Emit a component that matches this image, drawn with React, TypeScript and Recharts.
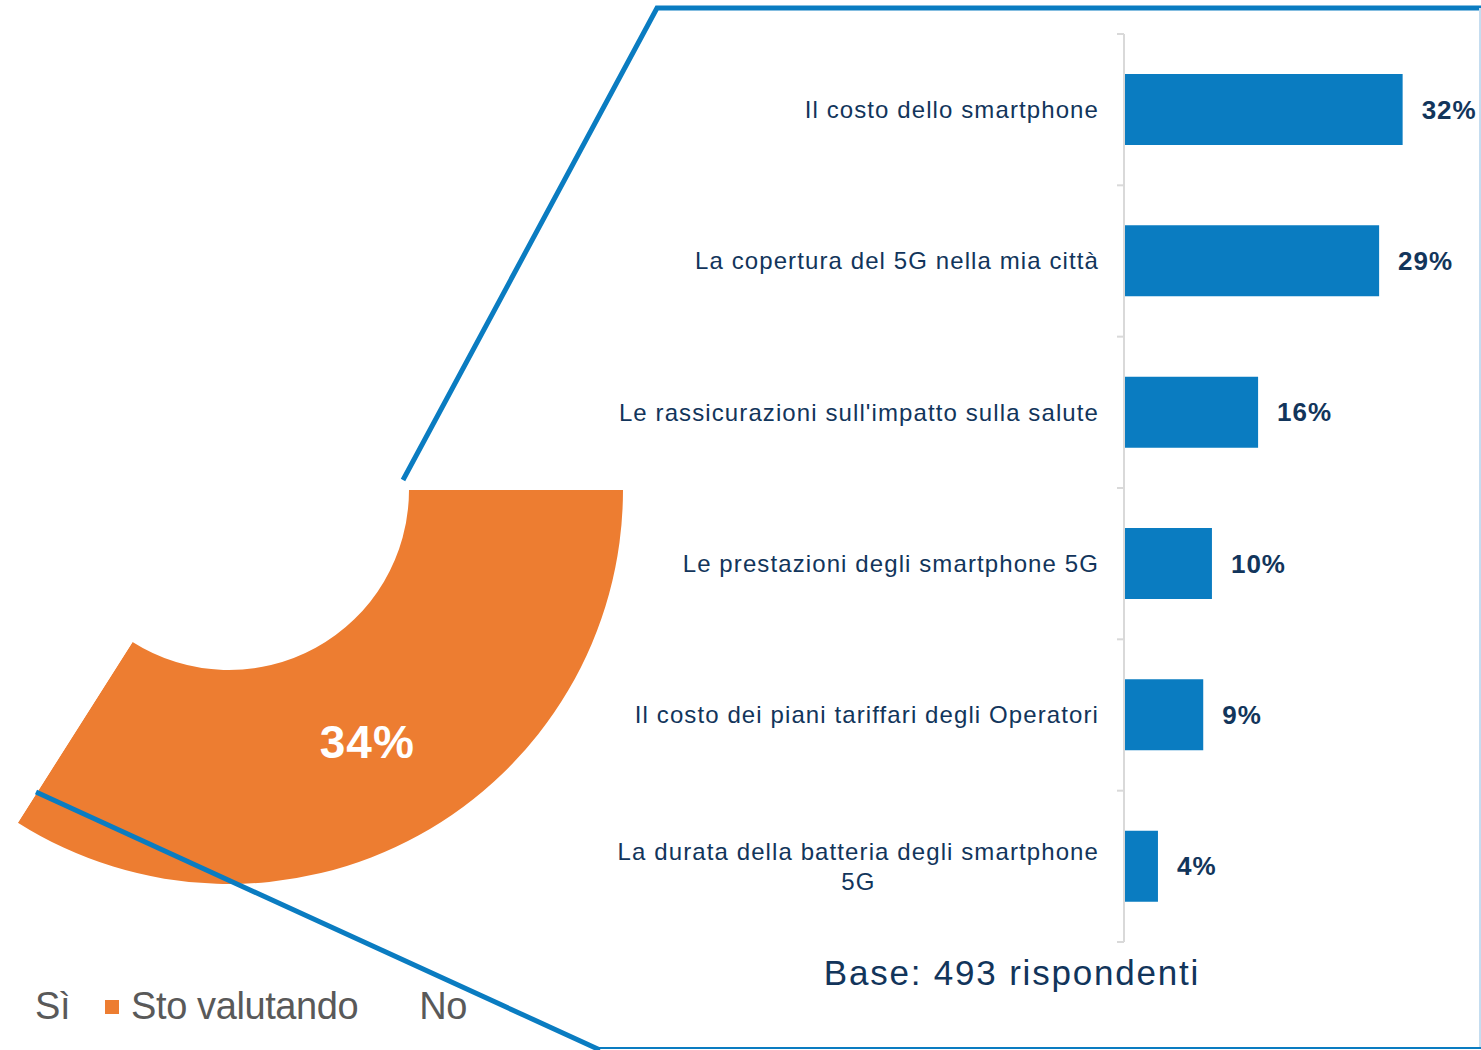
import { PieChart, Pie, Cell, Legend, BarChart, Bar, XAxis, YAxis, LabelList } from 'recharts'

const answers = ['Sì', 'Sto valutando', 'No']
const answerShares = [25, 34, 41]
const answerColors = ['#FFFFFF', '#ED7D31', '#FFFFFF']

const reasons = [
  'Il costo dello smartphone',
  'La copertura del 5G nella mia città',
  "Le rassicurazioni sull'impatto sulla salute",
  'Le prestazioni degli smartphone 5G',
  'Il costo dei piani tariffari degli Operatori',
  'La durata della batteria degli smartphone 5G',
]
const reasonShares = [32, 29.3, 15.4, 10.1, 9.1, 3.9]
const reasonLabels = ['32%', '29%', '16%', '10%', '9%', '4%']

const NAVY = '#12355B'
const BLUE = '#0A7CC1'
const FONT = "'Liberation Sans', Arial, sans-serif"

const pieData = answers.map((name, i) => ({ name, value: answerShares[i], color: answerColors[i] }))
const barData = reasons.map((name, i) => ({ name, value: reasonShares[i], label: reasonLabels[i] }))

const Y_W = 524
const PLOT_TOP = 34
const PLOT_H = 908
const BAND = PLOT_H / reasons.length
const TICK_SIZE = 24
const TICK_SPACING = 1.1
const WRAP = 500

let ctx: CanvasRenderingContext2D | null = null
function measure(s: string) {
  if (!ctx) ctx = document.createElement('canvas').getContext('2d')
  if (!ctx) return s.length * TICK_SIZE * 0.5
  ctx.font = `${TICK_SIZE}px ${FONT}`
  return ctx.measureText(s).width + TICK_SPACING * s.length
}

function wrap(text: string) {
  const words = text.split(' ')
  const lines: string[] = []
  let cur = ''
  for (const w of words) {
    const next = cur ? cur + ' ' + w : w
    if (cur && measure(next) > WRAP) {
      lines.push(cur)
      cur = w
    } else cur = next
  }
  if (cur) lines.push(cur)
  return lines
}

function ReasonTick(props: any) {
  const { y, payload, index } = props
  const lines = wrap(String(payload.value))
  const right = Y_W - 25
  const widths = lines.map(measure)
  const maxW = Math.max(...widths)
  const top = y - BAND / 2
  return (
    <g>
      <line x1={Y_W - 7} x2={Y_W} y1={top} y2={top} stroke="#D9D9D9" strokeWidth={2} />
      {index === reasons.length - 1 && (
        <line x1={Y_W - 7} x2={Y_W} y1={y + BAND / 2} y2={y + BAND / 2} stroke="#D9D9D9" strokeWidth={2} />
      )}
      {lines.map((ln, i) => (
        <text
          key={i}
          x={lines.length > 1 ? right - maxW / 2 : right}
          y={y + (i - (lines.length - 1) / 2) * 30}
          dy="0.35em"
          textAnchor={lines.length > 1 ? 'middle' : 'end'}
          fill={NAVY}
          fontSize={TICK_SIZE}
          fontFamily={FONT}
          letterSpacing={TICK_SPACING}
        >
          {ln}
        </text>
      ))}
    </g>
  )
}

const RAD = Math.PI / 180
function renderPieLabel(props: any) {
  const { cx, cy, midAngle, innerRadius, outerRadius, index, value } = props
  if (index !== 1) return null
  const r = (innerRadius + outerRadius) / 2
  const x = cx + r * Math.cos(-midAngle * RAD)
  const y = cy + r * Math.sin(-midAngle * RAD)
  return (
    <text x={x} y={y} dy="0.35em" textAnchor="middle" fill="#FFFFFF" fontSize={46} fontWeight="bold" fontFamily={FONT} letterSpacing={1}>
      {`${value}%`}
    </text>
  )
}

// legend keeps the data order (Sì, Sto valutando, No); white markers stay invisible
function renderLegend() {
  return (
    <div style={{ display: 'flex', alignItems: 'center', fontFamily: FONT, fontSize: 38, color: '#595959' }}>
      {answers.map((name, i) => (
        <div key={name} style={{ display: 'flex', alignItems: 'center', marginRight: 35 }}>
          <span style={{ width: 14, height: 14, background: answerColors[i], marginRight: 12, display: 'inline-block' }} />
          <span style={{ letterSpacing: -0.4 }}>{name}</span>
        </div>
      ))}
    </div>
  )
}

export default function App() {
  return (
    <div style={{ position: 'absolute', left: 0, top: 0, width: 1481, height: 1050, background: '#FFFFFF', overflow: 'hidden' }}>
      <div style={{ position: 'absolute', left: 0, top: 0 }}>
        <PieChart width={700} height={1050} margin={{ top: 0, right: 0, bottom: 0, left: 0 }}>
          <Pie
            data={pieData}
            dataKey="value"
            nameKey="name"
            cx={229}
            cy={490}
            innerRadius={180}
            outerRadius={394}
            startAngle={90}
            endAngle={-270}
            stroke="none"
            label={renderPieLabel}
            labelLine={false}
            isAnimationActive={false}
          >
            {pieData.map((d, i) => (
              <Cell key={i} fill={d.color} />
            ))}
          </Pie>
          <Legend content={renderLegend} wrapperStyle={{ position: 'absolute', left: 9, top: 985, width: 620 }} />
        </PieChart>
      </div>

      <div style={{ position: 'absolute', left: 600, top: 0 }}>
        <BarChart
          width={881}
          height={PLOT_TOP + PLOT_H + 18}
          layout="vertical"
          data={barData}
          margin={{ top: PLOT_TOP, right: 0, bottom: 18, left: 0 }}
        >
          <XAxis type="number" domain={[0, 41]} hide />
          <YAxis
            type="category"
            dataKey="name"
            width={Y_W}
            interval={0}
            axisLine={{ stroke: '#D9D9D9', strokeWidth: 2 }}
            tickLine={false}
            tick={<ReasonTick />}
          />
          <Bar dataKey="value" fill={BLUE} barSize={71} isAnimationActive={false}>
            <LabelList
              dataKey="label"
              position="right"
              offset={19}
              fill={NAVY}
              fontSize={26}
              fontWeight="bold"
              fontFamily={FONT}
              letterSpacing={1}
            />
          </Bar>
        </BarChart>
      </div>

      <svg width={1481} height={1050} style={{ position: 'absolute', left: 0, top: 0, pointerEvents: 'none' }}>
        <polyline points="403,480 657,8 1481,8" fill="none" stroke={BLUE} strokeWidth={5} />
        <line x1={1480} y1={8} x2={1480} y2={1048} stroke="#C5DDF0" strokeWidth={2} />
        <line x1={598} y1={1048} x2={1481} y2={1048} stroke={BLUE} strokeWidth={2} />
        <line x1={36} y1={792} x2={600} y2={1050} stroke={BLUE} strokeWidth={5} />
        <text x={1012} y={985} textAnchor="middle" fill={NAVY} fontSize={35} fontFamily={FONT} letterSpacing={1.8}>
          Base: 493 rispondenti
        </text>
      </svg>
    </div>
  )
}
